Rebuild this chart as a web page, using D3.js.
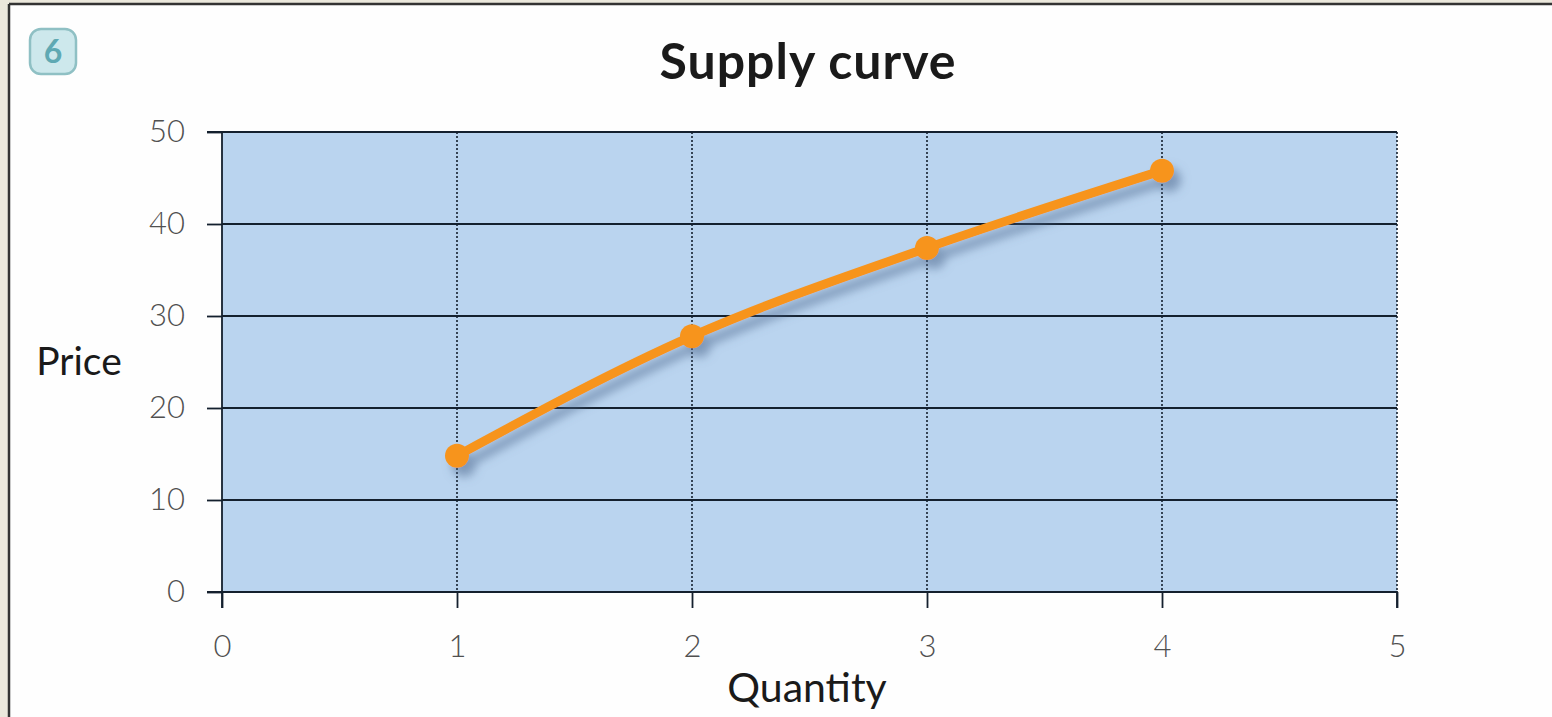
<!DOCTYPE html>
<html><head><meta charset="utf-8">
<script src="https://cdn.jsdelivr.net/npm/d3@7"></script>
<style>
html,body{margin:0;padding:0;background:#fff;}
svg{display:block;}
</style></head>
<body>
<script>
const quantities = [1, 2, 3, 4];
const prices = [14.8, 27.8, 37.4, 45.8];
const xTicks = [0, 1, 2, 3, 4, 5];
const yTicks = [0, 10, 20, 30, 40, 50];
const xTickLabels = ["0", "1", "2", "3", "4", "5"];
const yTickLabels = ["0", "10", "20", "30", "40", "50"];
const titleText = "Supply curve";
const xAxisTitle = "Quantity";
const yAxisTitle = "Price";
const badgeText = "6";

const W = 1552, H = 717;
const svg = d3.select("body").append("svg").attr("width", W).attr("height", H);

svg.append("rect").attr("x",0).attr("y",0).attr("width",W).attr("height",H).attr("fill","#ebe8dc");
svg.append("rect").attr("x",9).attr("y",4).attr("width",W-9).attr("height",H-4).attr("fill","#fefefe");
svg.append("line").attr("x1",9).attr("x2",9).attr("y1",4).attr("y2",H).attr("stroke","#333").attr("stroke-width",2.5);
svg.append("line").attr("x1",9).attr("x2",W).attr("y1",4).attr("y2",4).attr("stroke","#333").attr("stroke-width",2.5);

const defs = svg.append("defs");
const f = defs.append("filter").attr("id","shadow").attr("x","-10%").attr("y","-20%").attr("width","130%").attr("height","150%");
f.append("feDropShadow").attr("dx",7).attr("dy",9).attr("stdDeviation",5)
  .attr("flood-color","#4f6b8f").attr("flood-opacity",0.55);

const badge = svg.append("g");
badge.append("rect").attr("x",30).attr("y",29).attr("width",46).attr("height",45).attr("rx",11)
  .attr("fill","#cde8ec").attr("stroke","#8fc0c4").attr("stroke-width",2.5);
badge.append("text").attr("x",53).attr("y",63).attr("text-anchor","middle")
  .attr("font-family","Lato, 'Open Sans', sans-serif").attr("font-weight",700).attr("font-size",32)
  .attr("fill","#5fa9b3").text(badgeText);

const m = {left:222, right:1397, top:132, bottom:592};
const x = d3.scaleLinear().domain([0,5]).range([m.left, m.right]);
const y = d3.scaleLinear().domain([0,50]).range([m.bottom, m.top]);

svg.append("rect").attr("x",m.left).attr("y",m.top).attr("width",m.right-m.left).attr("height",m.bottom-m.top)
  .attr("fill","#bad4ef");

svg.append("g").selectAll("line").data(yTicks).join("line")
  .attr("x1",m.left).attr("x2",m.right).attr("y1",d=>y(d)).attr("y2",d=>y(d))
  .attr("stroke","#14202e").attr("stroke-width",1.8);

svg.append("g").selectAll("line").data(xTicks.filter(d=>d>0)).join("line")
  .attr("x1",d=>x(d)).attr("x2",d=>x(d)).attr("y1",m.top).attr("y2",m.bottom)
  .attr("stroke","#14202e").attr("stroke-width",1.6).attr("stroke-dasharray","2,2");

const yAxis = d3.axisLeft(y).tickValues(yTicks).tickSize(15).tickPadding(22).tickFormat((d,i)=>yTickLabels[i]);
const gy = svg.append("g").attr("transform",`translate(${m.left},0)`).call(yAxis);
const xAxis = d3.axisBottom(x).tickValues(xTicks).tickSize(16).tickPadding(27).tickFormat((d,i)=>xTickLabels[i]);
const gx = svg.append("g").attr("transform",`translate(0,${m.bottom})`).call(xAxis);
[gx, gy].forEach(g=>{
  g.select(".domain").attr("stroke","#14202e").attr("stroke-width",1.8);
  g.selectAll(".tick line").attr("stroke","#14202e").attr("stroke-width",1.8);
  g.selectAll(".tick text").attr("fill","#505050").attr("font-family","Lato, 'Open Sans', sans-serif")
    .attr("font-weight",300).attr("font-size",31);
});
gy.select(".domain").attr("d",`M-15,${m.top}H0V${m.bottom}H-15`);
gx.select(".domain").attr("d",`M${m.left},16V0H${m.right}V16`);

const data = quantities.map((q,i)=>({q, p:prices[i]}));
const series = svg.append("g").attr("filter","url(#shadow)");
series.append("path").datum(data)
  .attr("d", d3.line().x(d=>x(d.q)).y(d=>y(d.p)).curve(d3.curveMonotoneX))
  .attr("fill","none").attr("stroke","#f7941e").attr("stroke-width",9).attr("stroke-linecap","round");
series.selectAll("circle").data(data).join("circle")
  .attr("cx",d=>x(d.q)).attr("cy",d=>y(d.p)).attr("r",12).attr("fill","#f7941e");

svg.append("text").attr("x",808).attr("y",79).attr("text-anchor","middle")
  .attr("font-family","Lato, 'Open Sans', sans-serif").attr("font-weight",700).attr("font-size",50)
  .attr("letter-spacing",1).attr("fill","#1a1a1a").text(titleText);
svg.append("text").attr("x",79).attr("y",375).attr("text-anchor","middle")
  .attr("font-family","Lato, 'Open Sans', sans-serif").attr("font-weight",400).attr("font-size",39)
  .attr("fill","#1a1a1a").text(yAxisTitle);
svg.append("text").attr("x",807).attr("y",702).attr("text-anchor","middle")
  .attr("font-family","Lato, 'Open Sans', sans-serif").attr("font-weight",400).attr("font-size",41)
  .attr("fill","#1a1a1a").text(xAxisTitle);
</script>
</body></html>
